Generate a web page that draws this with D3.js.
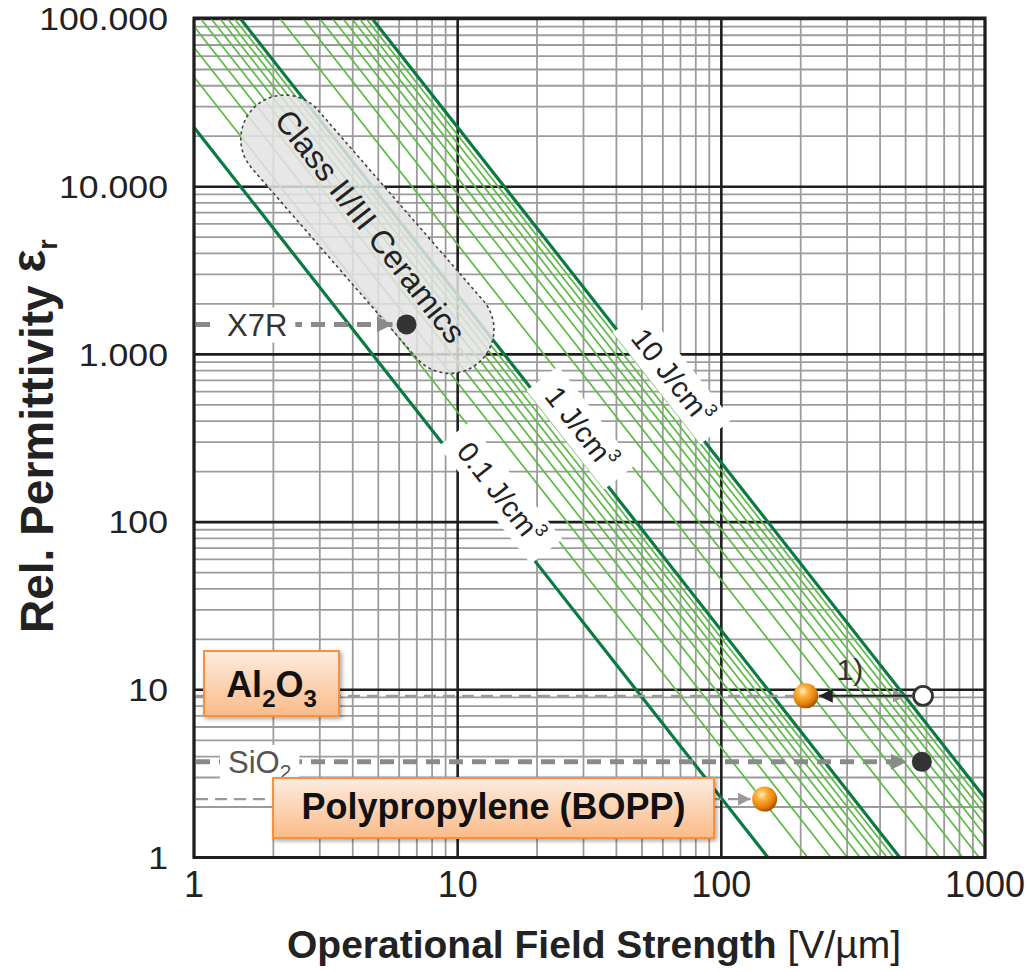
<!DOCTYPE html>
<html>
<head>
<meta charset="utf-8">
<script src="https://cdn.jsdelivr.net/npm/d3@7"></script>
<style>
  body { margin: 0; background: #fff; }
  svg { display: block; font-family: "Liberation Sans", Arial, sans-serif; }
</style>
</head>
<body>
<div id="chart"></div>
<script>
// axes
var xTicks = [1, 10, 100, 1000];
var yTicks = [1, 10, 100, 1000, 10000, 100000];
var yTickText = ["1", "10", "100", "1.000", "10.000", "100.000"];

// energy density iso-lines, J/cm³
var mainDensity = [0.1, 1, 10];
var subDensity = [0.2, 0.3, 0.4, 0.5, 0.6, 0.7, 0.8, 0.9, 2, 3, 4, 5, 6, 7, 8, 9];
var labelText = ["0.1 J/cm", "1 J/cm", "10 J/cm"];
var labelField = [13.1, 26.5, 58.8]; // where the label sits on its line (V/µm)

// materials (field strength V/µm, rel. permittivity)
var dotName = ["X7R", "SiO2"];
var dotField = [6.4, 576];
var dotEps = [1510, 3.72];
var ballName = ["Al2O3", "BOPP"];
var ballField = [209, 146];
var ballEps = [9.2, 2.23];
var openField = [582];
var openEps = [9.2];

// class II/III ceramics region (two end points of the blob)
var ceramicsField = [2.21, 9.35];
var ceramicsEps = [19230, 1410];

var W = 1028, H = 972;
// plot box (px)
var plot = { left: 194, right: 985, top: 19, bottom: 857.5 };

var x = d3.scaleLog().domain([1, 1000]).range([plot.left, plot.right]);
var y = d3.scaleLog().domain([1, 100000]).range([plot.bottom, plot.top]);

// eps_r = 2 w / (eps0 E^2), w in J/cm³, E in V/µm
function epsFor(w, E) { return 2 * w * 1e6 / (8.854e-12 * Math.pow(E * 1e6, 2)); }

var svg = d3.select("#chart").append("svg")
  .attr("width", W).attr("height", H);

var defs = svg.append("defs");
defs.append("clipPath").attr("id", "plotClip")
  .append("rect").attr("x", plot.left).attr("y", plot.top - 2)
  .attr("width", plot.right - plot.left).attr("height", plot.bottom - plot.top + 2);

var ballGrad = defs.append("radialGradient").attr("id", "ball")
  .attr("cx", "38%").attr("cy", "32%").attr("r", "70%");
ballGrad.append("stop").attr("offset", "0%").attr("stop-color", "#fff2c4");
ballGrad.append("stop").attr("offset", "30%").attr("stop-color", "#ffb23e");
ballGrad.append("stop").attr("offset", "75%").attr("stop-color", "#e57c08");
ballGrad.append("stop").attr("offset", "100%").attr("stop-color", "#9c5000");

var boxGrad = defs.append("linearGradient").attr("id", "box")
  .attr("x1", 0).attr("y1", 0).attr("x2", 0).attr("y2", 1);
boxGrad.append("stop").attr("offset", "0%").attr("stop-color", "#fdecdf");
boxGrad.append("stop").attr("offset", "100%").attr("stop-color", "#fbbb88");

defs.append("filter").attr("id", "shadow")
  .append("feDropShadow").attr("dx", 2).attr("dy", 2)
  .attr("stdDeviation", 2).attr("flood-opacity", 0.35);

function marker(id, color, size) {
  defs.append("marker").attr("id", id)
    .attr("viewBox", "0 0 10 10").attr("refX", 10).attr("refY", 5)
    .attr("markerUnits", "userSpaceOnUse")
    .attr("markerWidth", size).attr("markerHeight", size)
    .attr("orient", "auto")
    .append("path").attr("d", "M0,0L10,5L0,10Z").attr("fill", color);
}
marker("grayArrow", "#8a8a8a", 16);
marker("grayArrowS", "#999", 13);
marker("blackArrow", "#222", 14);

// grid
var xGrid = [], yGrid = [];
[1, 10, 100].forEach(function (d) {
  for (var m = 1; m < 10; m++) xGrid.push({ v: m * d, major: m === 1 });
});
xGrid.push({ v: 1000, major: true });
[1, 10, 100, 1000, 10000].forEach(function (d) {
  for (var m = 1; m < 10; m++) yGrid.push({ v: m * d, major: m === 1 });
});
yGrid.push({ v: 100000, major: true });

var grid = svg.append("g");
grid.selectAll(".vx").data(xGrid.filter(function (d) { return !d.major; })).enter()
  .append("line").attr("x1", function (d) { return x(d.v); }).attr("x2", function (d) { return x(d.v); })
  .attr("y1", plot.top).attr("y2", plot.bottom).attr("stroke", "#9c9c9c").attr("stroke-width", 1.8);
grid.selectAll(".hy").data(yGrid.filter(function (d) { return !d.major; })).enter()
  .append("line").attr("y1", function (d) { return y(d.v); }).attr("y2", function (d) { return y(d.v); })
  .attr("x1", plot.left).attr("x2", plot.right).attr("stroke", "#9c9c9c").attr("stroke-width", 1.8);
grid.selectAll(".vX").data(xGrid.filter(function (d) { return d.major; })).enter()
  .append("line").attr("x1", function (d) { return x(d.v); }).attr("x2", function (d) { return x(d.v); })
  .attr("y1", plot.top).attr("y2", plot.bottom).attr("stroke", "#1e1e1e").attr("stroke-width", 2.6);
grid.selectAll(".hY").data(yGrid.filter(function (d) { return d.major; })).enter()
  .append("line").attr("y1", function (d) { return y(d.v); }).attr("y2", function (d) { return y(d.v); })
  .attr("x1", plot.left).attr("x2", plot.right).attr("stroke", "#1e1e1e").attr("stroke-width", 2.6);

// iso energy lines
var lines = svg.append("g").attr("clip-path", "url(#plotClip)");
function isoLine(w) {
  return [[x(0.5), y(epsFor(w, 0.5))], [x(2000), y(epsFor(w, 2000))]];
}
lines.selectAll(".sub").data(subDensity).enter().append("path")
  .attr("d", function (w) { return d3.line()(isoLine(w)); })
  .attr("stroke", "#5dba45").attr("stroke-width", 1.7).attr("fill", "none");
lines.selectAll(".main").data(mainDensity).enter().append("path")
  .attr("d", function (w) { return d3.line()(isoLine(w)); })
  .attr("stroke", "#0b7a42").attr("stroke-width", 3.2).attr("fill", "none");

// line angle on screen
var p0 = [x(1), y(epsFor(1, 1))], p1 = [x(10), y(epsFor(1, 10))];
var angle = Math.atan2(p1[1] - p0[1], p1[0] - p0[0]) * 180 / Math.PI;

// ceramics blob
var c1 = [x(ceramicsField[0]), y(ceramicsEps[0])];
var c2 = [x(ceramicsField[1]), y(ceramicsEps[1])];
var blobLen = Math.hypot(c2[0] - c1[0], c2[1] - c1[1]);
var blobAng = Math.atan2(c2[1] - c1[1], c2[0] - c1[0]) * 180 / Math.PI;
var blob = svg.append("g")
  .attr("transform", "translate(" + (c1[0] + c2[0]) / 2 + "," + (c1[1] + c2[1]) / 2 + ") rotate(" + blobAng + ")");
blob.append("rect")
  .attr("x", -blobLen / 2 - 44).attr("y", -44)
  .attr("width", blobLen + 88).attr("height", 88).attr("rx", 44)
  .attr("fill", "#e3e3e3").attr("fill-opacity", 0.85)
  .attr("stroke", "#444").attr("stroke-width", 1.6).attr("stroke-dasharray", "3,3");
svg.append("text")
  .attr("transform", "translate(" + ((c1[0] + c2[0]) / 2 + 3) + "," + ((c1[1] + c2[1]) / 2 - 8) + ") rotate(" + angle + ")")
  .attr("text-anchor", "middle").attr("dy", "0.35em")
  .attr("font-size", 32).attr("fill", "#222")
  .text("Class II/III Ceramics");

// energy labels
mainDensity.forEach(function (w, i) {
  var E = labelField[i];
  var g = svg.append("g")
    .attr("transform", "translate(" + x(E) + "," + y(epsFor(w, E)) + ") rotate(" + angle + ")");
  var bg = g.append("rect").attr("fill", "#fff");
  var t = g.append("text").attr("text-anchor", "middle")
    .attr("y", -15).attr("dy", "0.35em")
    .attr("font-size", 29).attr("fill", "#222");
  t.append("tspan").text(labelText[i]);
  t.append("tspan").attr("font-size", 18).attr("dy", "-0.75em").text("3");
  var len = t.node().getComputedTextLength();
  bg.attr("x", -len / 2 - 15).attr("width", len + 30).attr("y", -35).attr("height", 40);
});

// dashed reference lines
function dashed(yv, xEnd, width, color, dash, mk) {
  svg.append("line")
    .attr("x1", plot.left + 2).attr("x2", xEnd)
    .attr("y1", y(yv)).attr("y2", y(yv))
    .attr("stroke", color).attr("stroke-width", width)
    .attr("stroke-dasharray", dash)
    .attr("marker-end", "url(#" + mk + ")");
}
dashed(dotEps[0], x(dotField[0]) - 14, 5, "#8a8a8a", "14,9", "grayArrow");
dashed(dotEps[1], x(dotField[1]) - 15, 5, "#8a8a8a", "14,9", "grayArrow");
dashed(openEps[0], x(openField[0]) - 17, 2.2, "#9a9a9a", "12,7", "grayArrowS");
dashed(ballEps[1], x(ballField[1]) - 14, 2.2, "#9a9a9a", "12,7", "grayArrowS");

// X7R and SiO2 text on their dashed lines
function tagText(label, sub, xs, yv, color) {
  var g = svg.append("g");
  var bg = g.append("rect").attr("fill", "#fff");
  var t = g.append("text").attr("x", xs).attr("y", y(yv)).attr("dy", "0.36em")
    .attr("font-size", 31).attr("fill", color);
  t.append("tspan").text(label);
  if (sub) t.append("tspan").attr("font-size", 21).attr("dy", "0.3em").text(sub);
  var bb = t.node().getBBox();
  bg.attr("x", bb.x - 8).attr("y", bb.y).attr("width", bb.width + 16).attr("height", bb.height);
}
tagText("X7R", null, 227, dotEps[0], "#333");
tagText("SiO", "2", 228, dotEps[1], "#555");

// theoretical Al2O3 -> real, arrow "1)"
svg.append("line")
  .attr("x1", x(openField[0]) - 11).attr("x2", x(ballField[0]) + 13)
  .attr("y1", y(openEps[0])).attr("y2", y(ballEps[0]))
  .attr("stroke", "#222").attr("stroke-width", 2)
  .attr("marker-end", "url(#blackArrow)");
svg.append("text").attr("x", 850).attr("y", y(openEps[0]) - 16)
  .attr("text-anchor", "middle").attr("font-size", 30).attr("fill", "#333").text("1)");

// points
svg.selectAll(".dot").data(dotField).enter().append("circle")
  .attr("cx", function (d) { return x(d); })
  .attr("cy", function (d, i) { return y(dotEps[i]); })
  .attr("r", 10).attr("fill", "#333");
svg.selectAll(".open").data(openField).enter().append("circle")
  .attr("cx", function (d) { return x(d); })
  .attr("cy", function (d, i) { return y(openEps[i]); })
  .attr("r", 9.5).attr("fill", "#fff").attr("stroke", "#333").attr("stroke-width", 2.8);
svg.selectAll(".ball").data(ballField).enter().append("circle")
  .attr("cx", function (d) { return x(d); })
  .attr("cy", function (d, i) { return y(ballEps[i]); })
  .attr("r", 12.5).attr("fill", "url(#ball)");

// frame
svg.append("rect").attr("x", plot.left).attr("y", plot.top - 1)
  .attr("width", plot.right - plot.left).attr("height", plot.bottom - plot.top + 1)
  .attr("fill", "none").attr("stroke", "#1e1e1e").attr("stroke-width", 3);

// material boxes
function box(x0, y0, w, h) {
  svg.append("rect").attr("x", x0).attr("y", y0).attr("width", w).attr("height", h)
    .attr("fill", "url(#box)").attr("stroke", "#f7913d").attr("stroke-width", 2)
    .attr("filter", "url(#shadow)");
}
box(204, 651, 135, 65);
var al = svg.append("text").attr("x", 271.5).attr("y", 697).attr("text-anchor", "middle")
  .attr("font-size", 36).attr("font-weight", "bold").attr("fill", "#111");
al.append("tspan").text("Al");
al.append("tspan").attr("font-size", 24).attr("dy", 10).text("2");
al.append("tspan").attr("dy", -10).text("O");
al.append("tspan").attr("font-size", 24).attr("dy", 10).text("3");

box(273, 778, 441, 60);
svg.append("text").attr("x", 493.5).attr("y", 819).attr("text-anchor", "middle")
  .attr("font-size", 36).attr("font-weight", "bold").attr("fill", "#111")
  .text("Polypropylene (BOPP)");

// tick labels
svg.selectAll(".xt").data(xTicks).enter().append("text")
  .attr("x", function (d) { return x(d); }).attr("y", 897)
  .attr("text-anchor", "middle").attr("font-size", 36).attr("fill", "#222")
  .text(function (d) { return d; });
svg.selectAll(".yt").data(yTicks).enter().append("text")
  .attr("transform", function (d) { return "translate(168," + y(d) + ") scale(1.15,1)"; })
  .attr("text-anchor", "end").attr("dy", "0.36em")
  .attr("font-size", 31).attr("fill", "#222")
  .text(function (d, i) { return yTickText[i]; });

// axis titles
var xt = svg.append("text").attr("x", 594).attr("y", 958).attr("text-anchor", "middle")
  .attr("font-size", 39).attr("fill", "#222");
xt.append("tspan").attr("font-weight", "bold").text("Operational Field Strength ");
xt.append("tspan").text("[V/µm]");

var yt = svg.append("text").attr("transform", "translate(53,633) rotate(-90)")
  .attr("font-size", 46).attr("font-weight", "bold").attr("fill", "#222");
yt.append("tspan").text("Rel. Permittivity ");
yt.append("tspan").attr("dy", -8).attr("font-size", 48).text("ε");
yt.append("tspan").attr("dy", 12).attr("font-size", 27).text("r");
</script>
</body>
</html>
